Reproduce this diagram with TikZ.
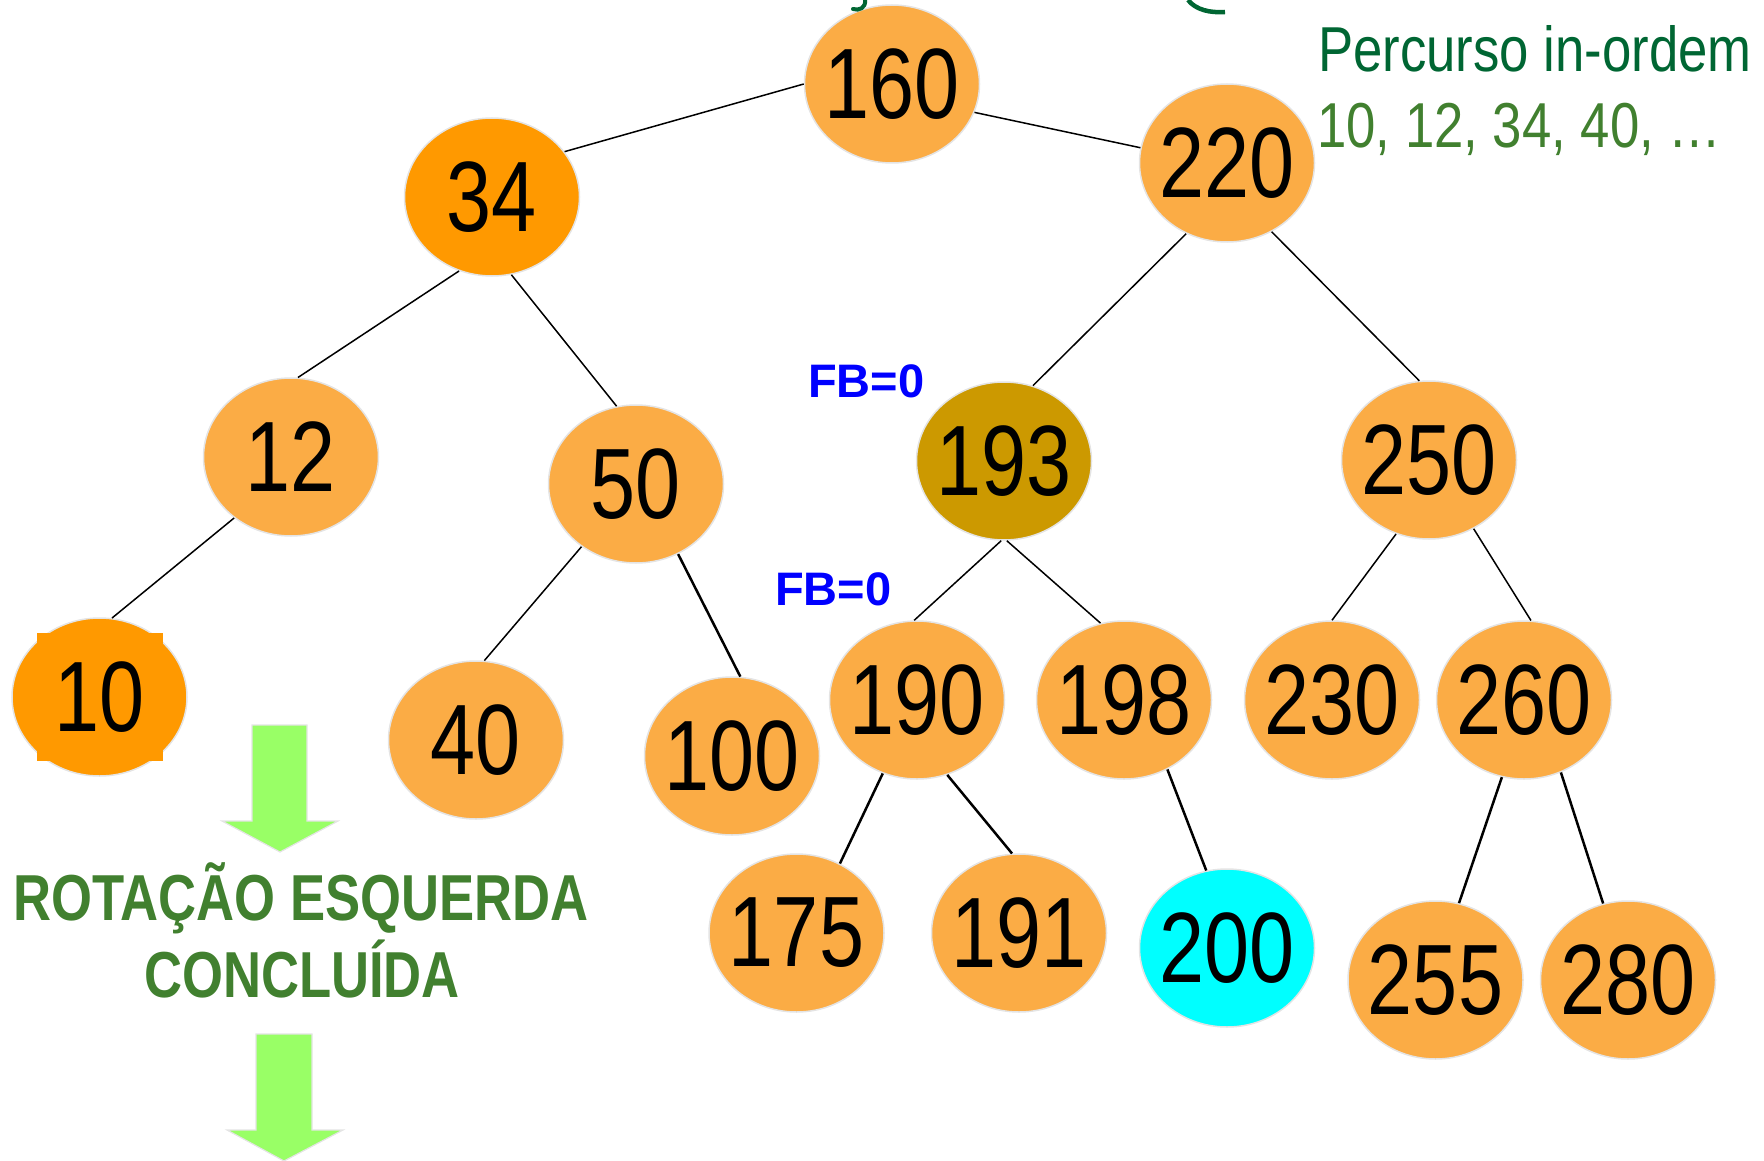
\documentclass[tikz,border=0pt]{standalone}
\usepackage{fontspec}
\setmainfont{Liberation Sans}
\newfontfamily\narrowfont[FakeStretch=0.81]{Liberation Sans}
\newfontfamily\notefont[FakeStretch=0.83]{Liberation Sans}
\usetikzlibrary{shapes.geometric}

\definecolor{nodeorange}{HTML}{FBAC45}
\definecolor{deeporange}{HTML}{FF9900}
\definecolor{olivegold}{HTML}{CC9900}
\definecolor{newcyan}{HTML}{00FFFF}
\definecolor{rimgray}{HTML}{E4E4E4}
\definecolor{titlegreen}{HTML}{006633}
\definecolor{seqgreen}{HTML}{41802F}
\definecolor{arrowgreen}{HTML}{99FF66}
\definecolor{fbblue}{HTML}{0000FF}

\tikzset{
  bst/.style={ellipse, minimum width=175pt, minimum height=158pt,
    inner xsep=-30pt, inner ysep=0pt,
    fill=nodeorange, draw=rimgray, line width=1.5pt,
    font=\narrowfont\fontsize{100}{100}\selectfont},
  digits/.style={inner sep=0pt, font=\narrowfont\fontsize{100}{100}\selectfont},
  link/.style={line width=1.5pt},
  heavylink/.style={line width=2.5pt},
  fblabel/.style={anchor=base west, inner sep=0pt, text=fbblue,
    font=\fontsize{47}{47}\selectfont\bfseries},
  steparrow/.style={fill=arrowgreen, draw=rimgray, line width=1.2pt},
  caption/.style={anchor=base, inner sep=0pt, text=seqgreen,
    font=\narrowfont\fontsize{65}{65}\selectfont\bfseries},
  notes/.style={anchor=base west, inner sep=0pt,
    font=\notefont\fontsize{63.5}{63.5}\selectfont},
}

\begin{document}
\begin{tikzpicture}[x=1pt, y=-1pt]
\useasboundingbox (0,0) rectangle (1764,1161);

% tree nodes
\node[bst] (n160) at (892,84) {160};
\node[bst, fill=deeporange] (n34) at (492,197) {34};
\node[bst] (n220) at (1227,163) {220};
\node[bst] (n12) at (291,457) {12};
\node[bst] (n50) at (636,484) {50};
\node[bst, fill=olivegold] (n193) at (1004,461) {193};
\node[bst] (n250) at (1429,460) {250};
\node[bst, fill=deeporange] (n10) at (99.5,697) {};
\fill[deeporange] (n10.center) +(-63,-64) rectangle +(63,64);
\node[digits] (n10txt) at (n10.center) {10};
\node[bst] (n40) at (476,740) {40};
\node[bst] (n100) at (732,756) {100};
\node[bst] (n190) at (917,700) {190};
\node[bst] (n198) at (1124,700) {198};
\node[bst] (n230) at (1332,700) {230};
\node[bst] (n260) at (1524,700) {260};
\node[bst] (n175) at (796.5,933) {175};
\node[bst] (n191) at (1019,933) {191};
\node[bst, fill=newcyan] (n200) at (1227,948) {200};
\node[bst] (n255) at (1435.5,980) {255};
\node[bst] (n280) at (1628,980) {280};

% edges
\draw[link] (n160.180) -- (n34.32);
\draw[link] (n160.-19) -- (n220.170);
\draw[link] (n34.246) -- (n12.85);
\draw[link] (n34.-76) -- (n50.104);
\draw[link] (n220.240) -- (n193.69);
\draw[link] (n220.-57) -- (n250.97);
\draw[link] (n12.227) -- (n10.81);
\draw[link] (n50.229) -- (n40.84);
\draw[heavylink] (n50.-59) -- (n100.84);
\draw[link] (n193.268) -- (n190.92);
\draw[link] (n193.272) -- (n198.107);
\draw[link] (n250.246) -- (n230.90);
\draw[link] (n250.-57) -- (n260.85);
\draw[heavylink] (n190.245) -- (n175.58);
\draw[heavylink] (n190.-68) -- (n191.95);
\draw[heavylink] (n198.-58) -- (n200.105);
\draw[heavylink] (n260.254) -- (n255.73);
\draw[heavylink] (n260.-63) -- (n280.108);

% balance factors
\node[fblabel] (fb1) at (808,397) {FB=0};
\node[fblabel] (fb2) at (775,605) {FB=0};

% in-order traversal note
\node[notes, text=titlegreen] (title) at (1318,72) {Percurso in-ordem};
\node[notes, text=seqgreen] (seq) at (1317,148) {10, 12, 34, 40, …};

% step arrows and caption
\draw[steparrow] (252,725) -- (307,725) -- (307,821) -- (338,821) -- (280,852)
  -- (222,821) -- (252,821) -- cycle;
\node[caption] (cap1) at (301,920) {ROTAÇÃO ESQUERDA};
\node[caption] (cap2) at (302,997) {CONCLUÍDA};
\draw[steparrow] (256,1034) -- (312,1034) -- (312,1130) -- (343,1130) -- (284,1161)
  -- (227,1130) -- (256,1130) -- cycle;

% strokes running in from the top edge
\draw[titlegreen, line width=4pt, line cap=round]
  (865,0) .. controls (866,8) and (859,11) .. (853,9);
\draw[titlegreen, line width=4.5pt]
  (1188,0) .. controls (1196,10) and (1210,13) .. (1225,12);
\end{tikzpicture}
\end{document}
